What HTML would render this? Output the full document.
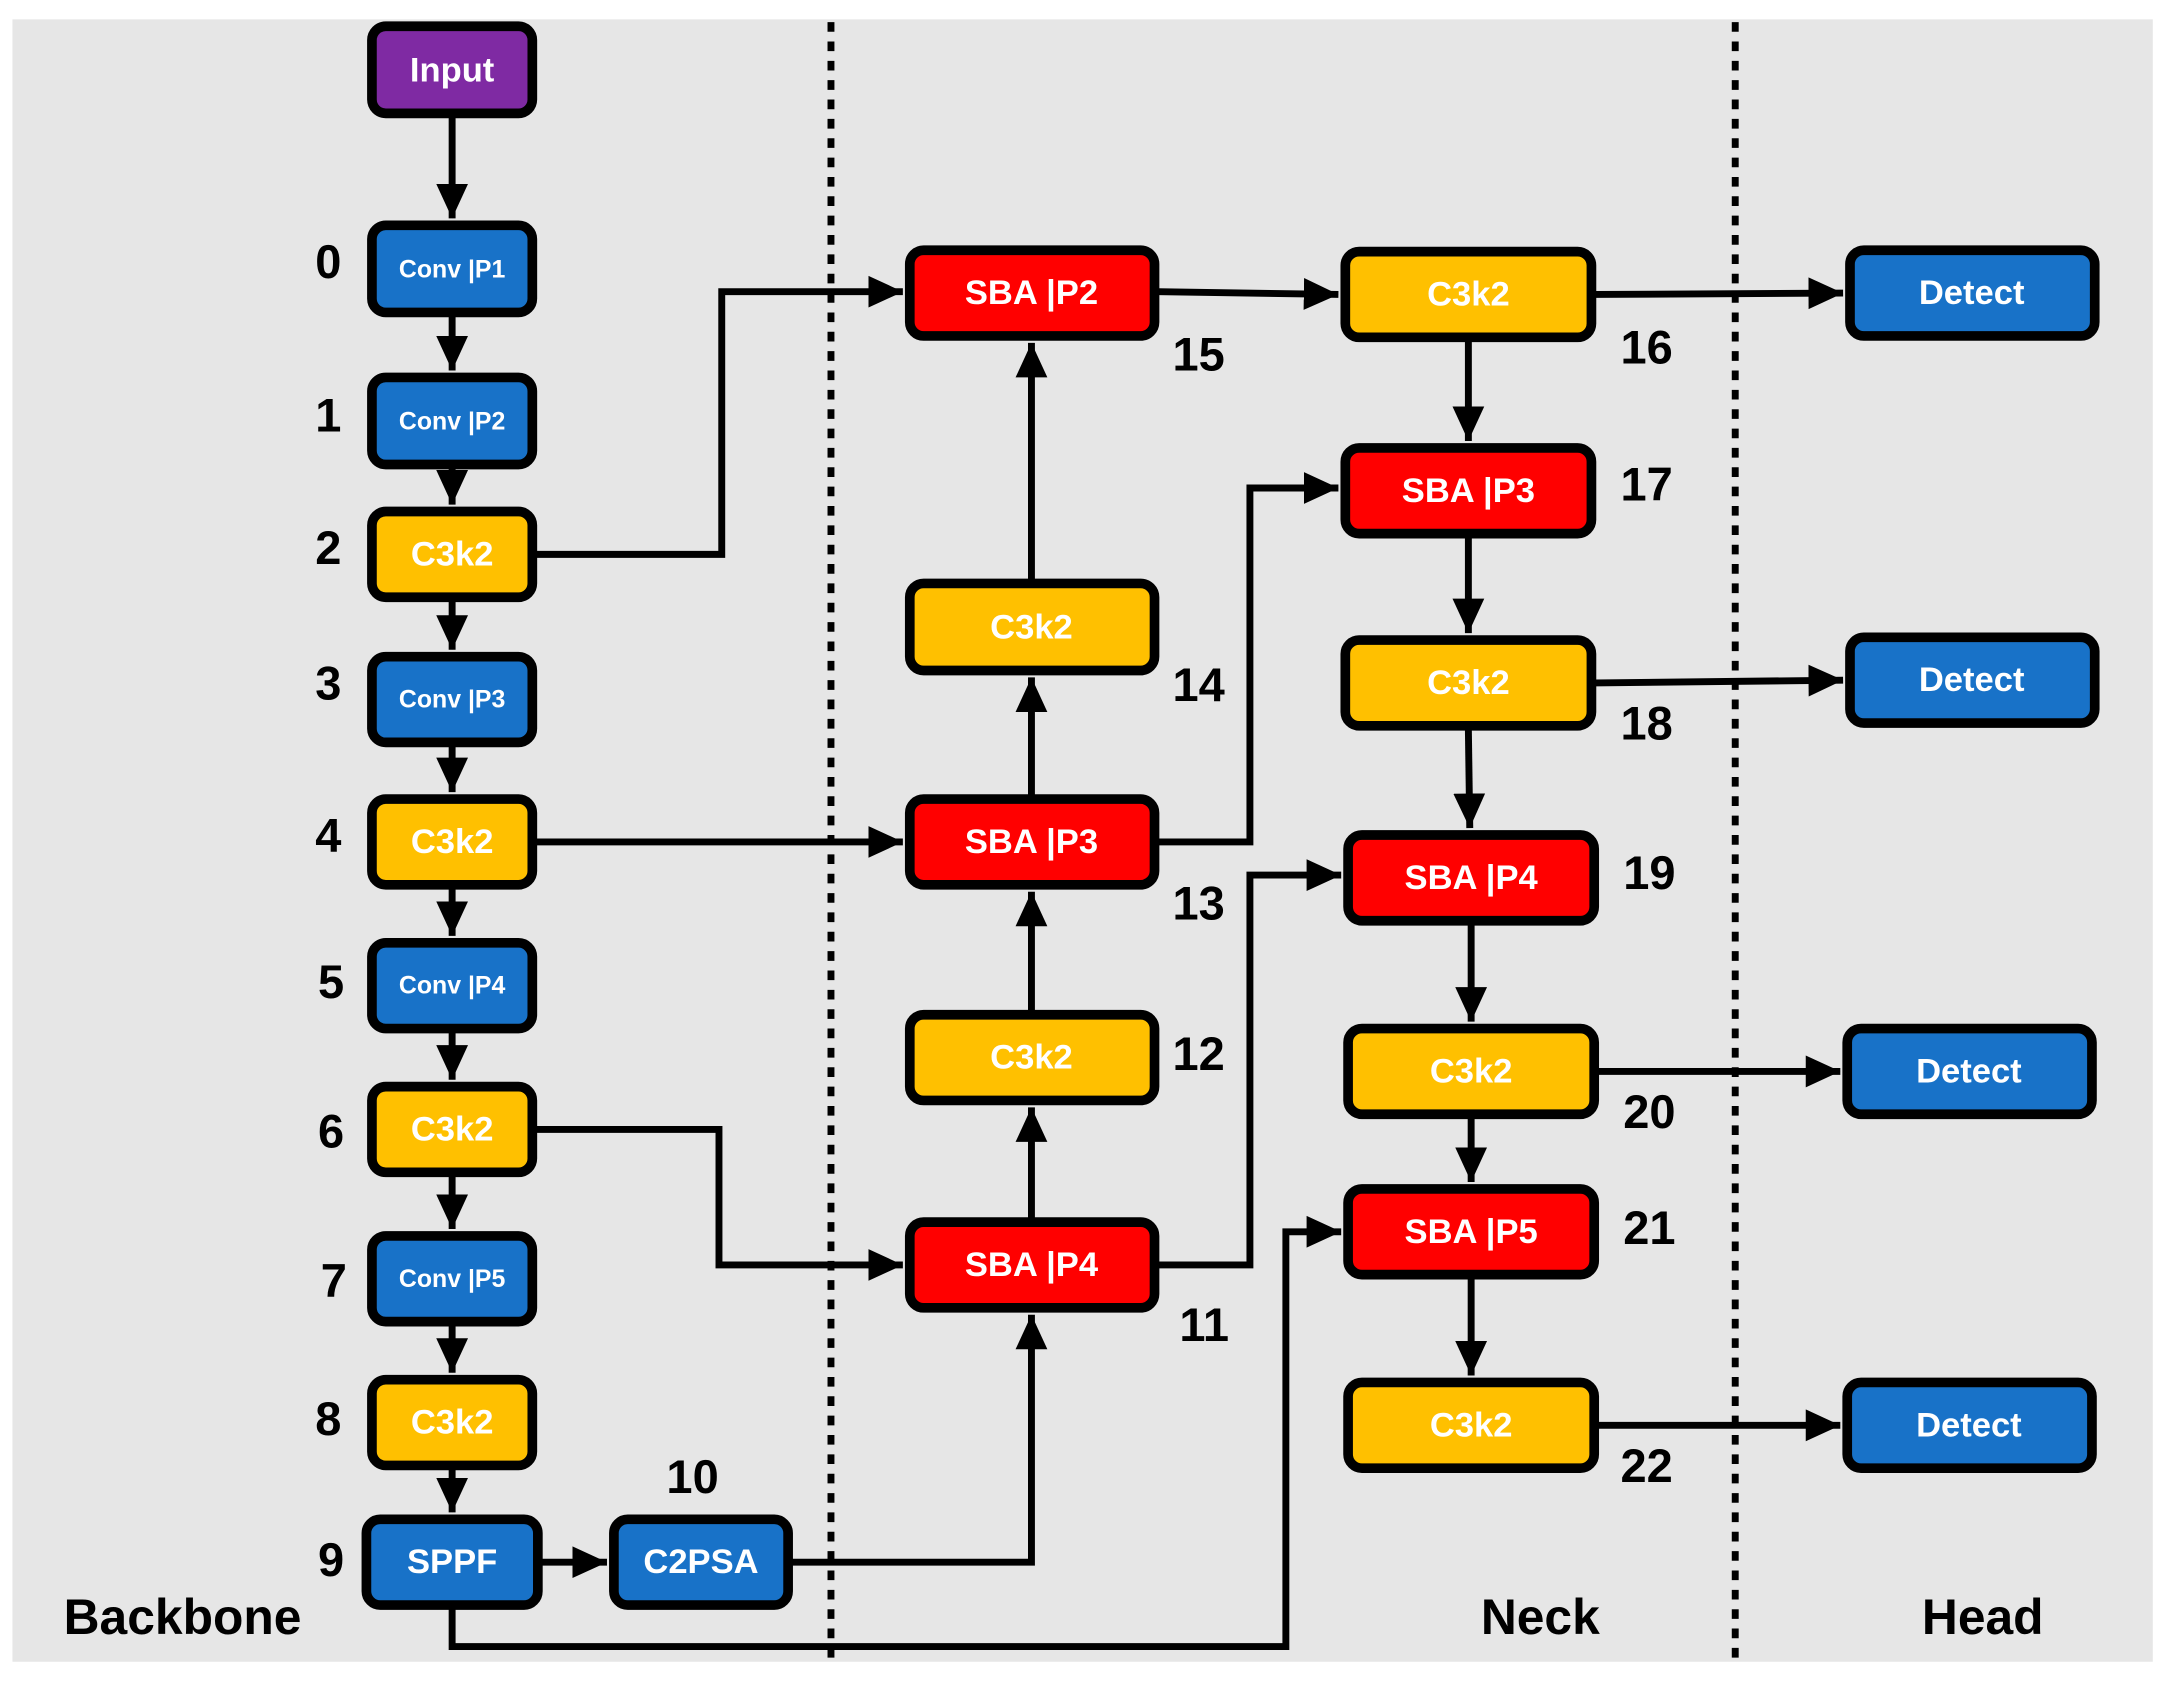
<!DOCTYPE html>
<html><head><meta charset="utf-8"><style>
html,body{margin:0;padding:0;background:#fff}
svg{display:block}
text{font-family:"Liberation Sans",sans-serif;font-weight:bold}
.b{stroke:#000;stroke-width:7}
.l{fill:#fff;text-anchor:middle;dominant-baseline:central}
.n{fill:#000;font-size:34px}
.c{fill:none;stroke:#000;stroke-width:5}
</style></head><body>
<svg width="2168" height="1688" viewBox="0 0 1568 1221" preserveAspectRatio="none" xmlns="http://www.w3.org/2000/svg">
<defs><marker id="a" markerWidth="6" markerHeight="6" refX="5" refY="3" orient="auto" markerUnits="strokeWidth"><path d="M0,0.7 L5,3 L0,5.3Z" fill="#000"/></marker></defs>
<rect x="9" y="14" width="1548" height="1188" fill="#e6e6e6"/>
<line x1="601" y1="16" x2="601" y2="1202" stroke="#000" stroke-width="5" stroke-dasharray="7,7"/>
<line x1="1255" y1="16" x2="1255" y2="1202" stroke="#000" stroke-width="5" stroke-dasharray="7,7"/>
<g class="c" marker-end="url(#a)">
<line x1="327" y1="85" x2="327" y2="158"/>
<line x1="327" y1="229" x2="327" y2="268"/>
<line x1="327" y1="339" x2="327" y2="365"/>
<line x1="327" y1="435" x2="327" y2="470"/>
<line x1="327" y1="540" x2="327" y2="573"/>
<line x1="327" y1="643" x2="327" y2="677"/>
<line x1="327" y1="747" x2="327" y2="781"/>
<line x1="327" y1="851" x2="327" y2="889"/>
<line x1="327" y1="959" x2="327" y2="993"/>
<line x1="327" y1="1063" x2="327" y2="1094"/>
<line x1="392" y1="1130" x2="439" y2="1130"/>
<polyline points="388,401 522,401 522,211 653,211"/>
<polyline points="388,609 653,609"/>
<polyline points="388,817 520,817 520,915 653,915"/>
<polyline points="573,1130 746,1130 746,951"/>
<line x1="746" y1="881" x2="746" y2="801"/>
<line x1="746" y1="731" x2="746" y2="645"/>
<line x1="746" y1="575" x2="746" y2="490"/>
<line x1="746" y1="419" x2="746" y2="248"/>
<line x1="838" y1="211" x2="968" y2="213"/>
<polyline points="838,609 904,609 904,353 968,353"/>
<polyline points="838,915 904,915 904,633 970,633"/>
<polyline points="327,1164 327,1191 930,1191 930,891 970,891"/>
<line x1="1062" y1="247" x2="1062" y2="319"/>
<line x1="1062" y1="389" x2="1062" y2="458"/>
<line x1="1062" y1="528" x2="1063" y2="599"/>
<line x1="1064" y1="669" x2="1064" y2="739"/>
<line x1="1064" y1="809" x2="1064" y2="855"/>
<line x1="1064" y1="925" x2="1064" y2="995"/>
<line x1="1154" y1="213" x2="1333" y2="212"/>
<line x1="1154" y1="494" x2="1333" y2="492"/>
<line x1="1156" y1="775" x2="1331" y2="775"/>
<line x1="1156" y1="1031" x2="1331" y2="1031"/>
</g>
<g class="b">
<rect x="269" y="19" width="116" height="63" rx="10" fill="#7f2aa3"/>
<rect x="269" y="163" width="116" height="63" rx="10" fill="#1872c8"/>
<rect x="269" y="273" width="116" height="63" rx="10" fill="#1872c8"/>
<rect x="269" y="370" width="116" height="62" rx="10" fill="#ffc000"/>
<rect x="269" y="475" width="116" height="62" rx="10" fill="#1872c8"/>
<rect x="269" y="578" width="116" height="62" rx="10" fill="#ffc000"/>
<rect x="269" y="682" width="116" height="62" rx="10" fill="#1872c8"/>
<rect x="269" y="786" width="116" height="62" rx="10" fill="#ffc000"/>
<rect x="269" y="894" width="116" height="62" rx="10" fill="#1872c8"/>
<rect x="269" y="998" width="116" height="62" rx="10" fill="#ffc000"/>
<rect x="265" y="1099" width="124" height="62" rx="10" fill="#1872c8"/>
<rect x="444" y="1099" width="126" height="62" rx="10" fill="#1872c8"/>
<rect x="658" y="181" width="177" height="62" rx="10" fill="#ff0000"/>
<rect x="658" y="422" width="177" height="63" rx="10" fill="#ffc000"/>
<rect x="658" y="578" width="177" height="62" rx="10" fill="#ff0000"/>
<rect x="658" y="734" width="177" height="62" rx="10" fill="#ffc000"/>
<rect x="658" y="884" width="177" height="62" rx="10" fill="#ff0000"/>
<rect x="973" y="182" width="178" height="62" rx="10" fill="#ffc000"/>
<rect x="973" y="324" width="178" height="62" rx="10" fill="#ff0000"/>
<rect x="973" y="463" width="178" height="62" rx="10" fill="#ffc000"/>
<rect x="975" y="604" width="178" height="62" rx="10" fill="#ff0000"/>
<rect x="975" y="744" width="178" height="62" rx="10" fill="#ffc000"/>
<rect x="975" y="860" width="178" height="62" rx="10" fill="#ff0000"/>
<rect x="975" y="1000" width="178" height="62" rx="10" fill="#ffc000"/>
<rect x="1338" y="181" width="177" height="62" rx="10" fill="#1872c8"/>
<rect x="1338" y="461" width="177" height="62" rx="10" fill="#1872c8"/>
<rect x="1336" y="744" width="177" height="62" rx="10" fill="#1872c8"/>
<rect x="1336" y="1000" width="177" height="62" rx="10" fill="#1872c8"/>
</g>
<g class="l" font-size="25">
<text x="327" y="51">Input</text>
<text x="327" y="195" font-size="18">Conv |P1</text>
<text x="327" y="305" font-size="18">Conv |P2</text>
<text x="327" y="401">C3k2</text>
<text x="327" y="506" font-size="18">Conv |P3</text>
<text x="327" y="609">C3k2</text>
<text x="327" y="713" font-size="18">Conv |P4</text>
<text x="327" y="817">C3k2</text>
<text x="327" y="925" font-size="18">Conv |P5</text>
<text x="327" y="1029">C3k2</text>
<text x="327" y="1130">SPPF</text>
<text x="507" y="1130">C2PSA</text>
<text x="746" y="212">SBA |P2</text>
<text x="746" y="454">C3k2</text>
<text x="746" y="609">SBA |P3</text>
<text x="746" y="765">C3k2</text>
<text x="746" y="915">SBA |P4</text>
<text x="1062" y="213">C3k2</text>
<text x="1062" y="355">SBA |P3</text>
<text x="1062" y="494">C3k2</text>
<text x="1064" y="635">SBA |P4</text>
<text x="1064" y="775">C3k2</text>
<text x="1064" y="891">SBA |P5</text>
<text x="1064" y="1031">C3k2</text>
<text x="1426" y="212">Detect</text>
<text x="1426" y="492">Detect</text>
<text x="1424" y="775">Detect</text>
<text x="1424" y="1031">Detect</text>
</g>
<g class="n">
<text x="228" y="201">0</text>
<text x="228" y="312">1</text>
<text x="228" y="408">2</text>
<text x="228" y="506">3</text>
<text x="228" y="616">4</text>
<text x="230" y="722">5</text>
<text x="230" y="830">6</text>
<text x="232" y="938">7</text>
<text x="228" y="1038">8</text>
<text x="230" y="1140">9</text>
<text x="482" y="1080">10</text>
<text x="853" y="970">11</text>
<text x="848" y="774">12</text>
<text x="848" y="665">13</text>
<text x="848" y="507">14</text>
<text x="848" y="268">15</text>
<text x="1172" y="263">16</text>
<text x="1172" y="362">17</text>
<text x="1172" y="535">18</text>
<text x="1174" y="643">19</text>
<text x="1174" y="816">20</text>
<text x="1174" y="900">21</text>
<text x="1172" y="1072">22</text>
<text x="46" y="1182" font-size="36">Backbone</text>
<text x="1071" y="1182" font-size="36">Neck</text>
<text x="1390" y="1182" font-size="36">Head</text>
</g>
</svg>
</body></html>
